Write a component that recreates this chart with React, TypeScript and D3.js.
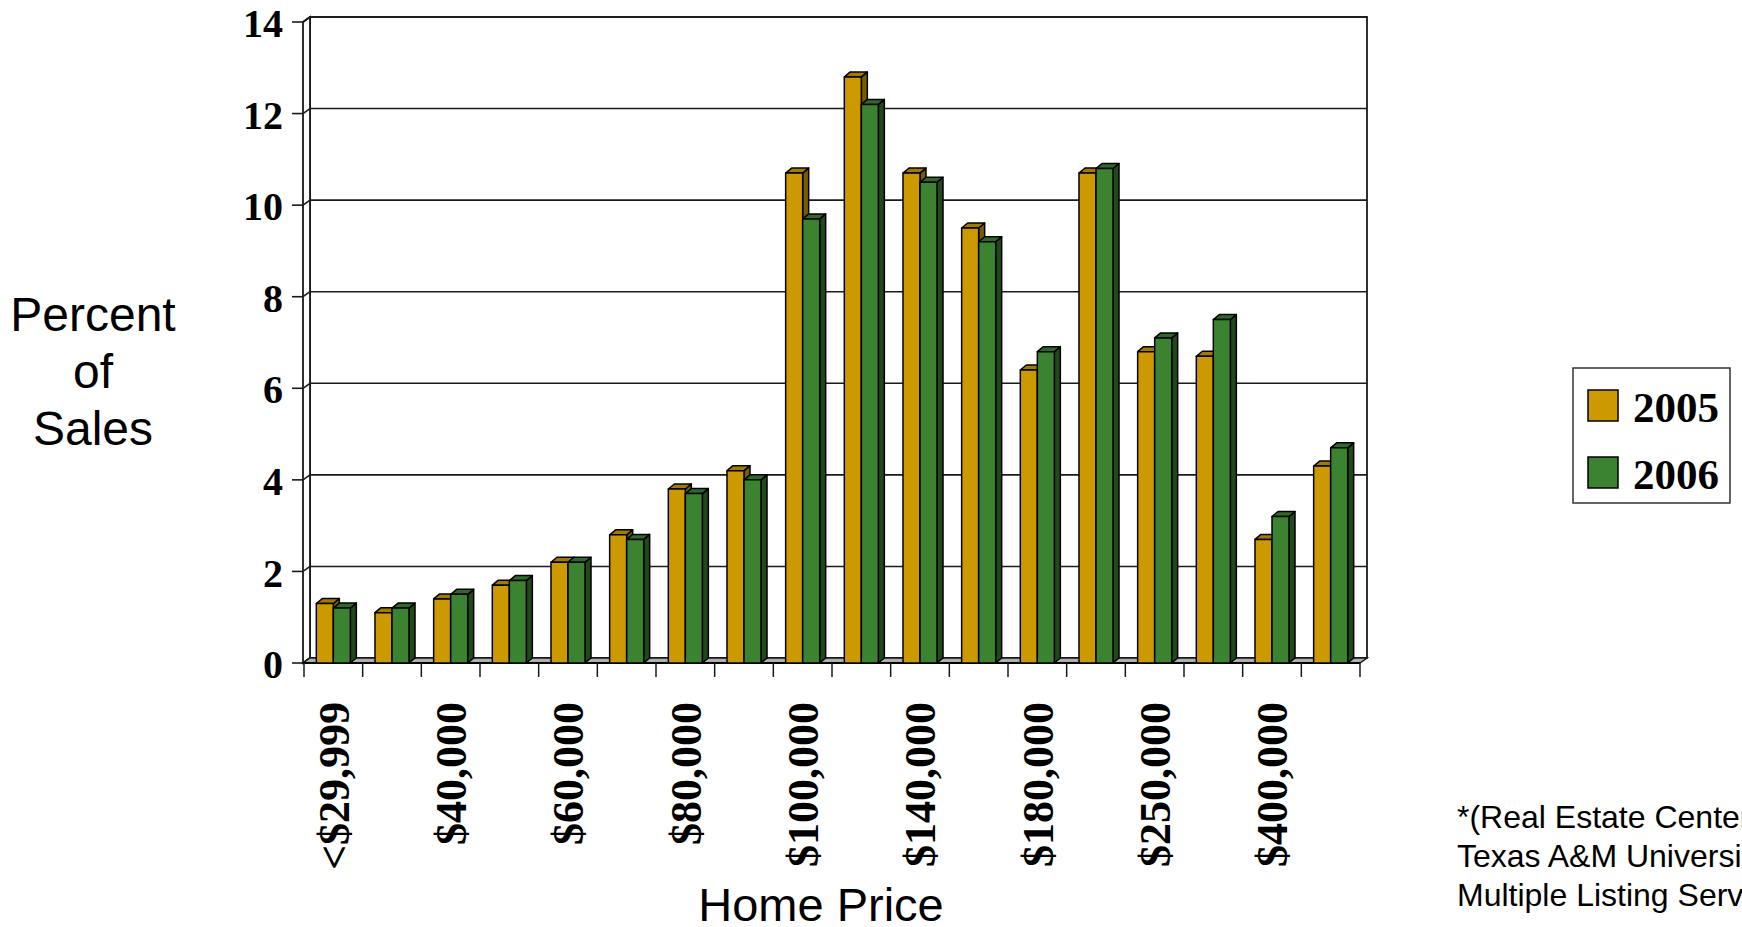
import React from "react";
import * as d3 from "d3";

const categories = [
  "<$29,999", "$30,000", "$40,000", "$50,000", "$60,000", "$70,000",
  "$80,000", "$90,000", "$100,000", "$120,000", "$140,000", "$160,000",
  "$180,000", "$200,000", "$250,000", "$300,000", "$400,000", "$500,000",
];
const seriesNames = ["2005", "2006"];
const values2005 = [1.3, 1.1, 1.4, 1.7, 2.2, 2.8, 3.8, 4.2, 10.7, 12.8, 10.7, 9.5, 6.4, 10.7, 6.8, 6.7, 2.7, 4.3];
const values2006 = [1.2, 1.2, 1.5, 1.8, 2.2, 2.7, 3.7, 4.0, 9.7, 12.2, 10.5, 9.2, 6.8, 10.8, 7.1, 7.5, 3.2, 4.7];
const yTicks = [0, 2, 4, 6, 8, 10, 12, 14];
const yTitleLines = ["Percent", "of", "Sales"];
const xTitle = "Home Price";
const sourceLines = ["*(Real Estate Center", "Texas A&M University", "Multiple Listing Service)"];

const W = 1742;
const H = 927;
const DX = 7; // wall depth
const DY = -5;
const BDX = 6; // bar depth
const BDY = -5;

const colors = [
  { front: "#CC9900", top: "#A37A00", side: "#7A5C00" },
  { front: "#3B8331", top: "#2E6A27", side: "#22481C" },
];

const SERIF = "'Liberation Serif', 'Times New Roman', serif";
const SANS = "'Liberation Sans', Arial, sans-serif";

export default function App() {
  const x = d3.scaleBand<string>().domain(categories).range([304, 1360]).padding(0);
  const bw = x.bandwidth();
  const x1 = d3.scaleBand<string>().domain(seriesNames).range([bw * 0.21, bw * 0.79]).padding(0);
  const y = d3.scaleLinear().domain([0, 14]).range([663, 22]);
  const y0 = y(0);
  const left = 303;
  const right = 1360;
  const data = [values2005, values2006];

  const bars: React.ReactNode[] = [];
  categories.forEach((c, i) => {
    seriesNames.forEach((s, si) => {
      const v = data[si][i];
      const bx = (x(c) as number) + (x1(s) as number);
      const w = x1.bandwidth();
      const yv = y(v);
      const col = colors[si];
      bars.push(
        <g key={`${i}-${si}`} stroke="#000" strokeWidth={1.5} strokeLinejoin="round">
          <polygon
            points={`${bx + w},${yv} ${bx + w + BDX},${yv + BDY} ${bx + w + BDX},${y0 + BDY} ${bx + w},${y0}`}
            fill={col.side}
          />
          <polygon
            points={`${bx},${yv} ${bx + BDX},${yv + BDY} ${bx + w + BDX},${yv + BDY} ${bx + w},${yv}`}
            fill={col.top}
          />
          <rect x={bx} y={yv} width={w} height={y0 - yv} fill={col.front} />
        </g>
      );
    });
  });

  const xTickPositions = d3.range(categories.length + 1).map((i) => 304 + i * bw);

  return (
    <svg
      width={W}
      height={H}
      style={{ position: "absolute", left: 0, top: 0, background: "#fff" }}
    >
      <rect x={0} y={0} width={W} height={H} fill="#fff" />
      {/* back wall */}
      <rect
        x={left + DX}
        y={y(14) + DY}
        width={right - left}
        height={y0 - y(14)}
        fill="#fff"
        stroke="#1a1a1a"
        strokeWidth={1.8}
      />
      {/* left wall */}
      <polygon
        points={`${left},${y(14)} ${left + DX},${y(14) + DY} ${left + DX},${y0 + DY} ${left},${y0}`}
        fill="#fff"
        stroke="#1a1a1a"
        strokeWidth={1.8}
      />
      {/* gridlines */}
      {yTicks.map((t) => (
        <g key={t} stroke="#1a1a1a" strokeWidth={1.6}>
          <line x1={left} y1={y(t)} x2={left + DX} y2={y(t) + DY} />
          <line x1={left + DX} y1={y(t) + DY} x2={right + DX} y2={y(t) + DY} />
          <line x1={292} y1={y(t)} x2={left} y2={y(t)} />
        </g>
      ))}
      {/* floor */}
      <polygon
        points={`${left},${y0} ${left + DX},${y0 + DY} ${right + DX},${y0 + DY} ${right},${y0}`}
        fill="#b0b0b0"
        stroke="#1a1a1a"
        strokeWidth={1.5}
      />
      <line x1={left} y1={y0} x2={right} y2={y0} stroke="#000" strokeWidth={2} />
      {/* x ticks */}
      {xTickPositions.map((p, i) => (
        <line key={i} x1={p} y1={y0} x2={p} y2={y0 + 14} stroke="#1a1a1a" strokeWidth={1.5} />
      ))}
      {/* bars */}
      {bars}
      {/* y tick labels */}
      {yTicks.map((t) => (
        <text
          key={t}
          x={283}
          y={y(t)}
          dy="0.38em"
          textAnchor="end"
          fontFamily={SERIF}
          fontWeight="bold"
          fontSize={40}
          fill="#000"
        >
          {t}
        </text>
      ))}
      {/* x labels */}
      {categories.map((c, i) =>
        i % 2 === 0 ? (
          <text
            key={c}
            transform={`translate(${(x(c) as number) + bw / 2},702) rotate(-90)`}
            dy="0.35em"
            textAnchor="end"
            fontFamily={SERIF}
            fontWeight="bold"
            fontSize={44}
            fill="#000"
          >
            {c}
          </text>
        ) : null
      )}
      {/* y title */}
      {yTitleLines.map((l, i) => (
        <text
          key={l}
          x={93}
          y={331 + i * 57}
          textAnchor="middle"
          fontFamily={SANS}
          fontSize={48}
          fill="#000"
        >
          {l}
        </text>
      ))}
      {/* x title */}
      <text x={821} y={921} textAnchor="middle" fontFamily={SANS} fontSize={47} fill="#000">
        {xTitle}
      </text>
      {/* legend */}
      <rect x={1573} y={368} width={157} height={135} fill="#fff" stroke="#333" strokeWidth={1.5} />
      {seriesNames.map((s, i) => (
        <g key={s}>
          <rect
            x={1588}
            y={390 + i * 67}
            width={30}
            height={31}
            fill={colors[i].front}
            stroke="#000"
            strokeWidth={1.5}
          />
          <text
            x={1633}
            y={422 + i * 67}
            fontFamily={SERIF}
            fontWeight="bold"
            fontSize={43}
            fill="#000"
          >
            {s}
          </text>
        </g>
      ))}
      {/* source */}
      {sourceLines.map((l, i) => (
        <text key={l} x={1457} y={828 + i * 39} fontFamily={SANS} fontSize={32} fill="#000">
          {l}
        </text>
      ))}
    </svg>
  );
}
